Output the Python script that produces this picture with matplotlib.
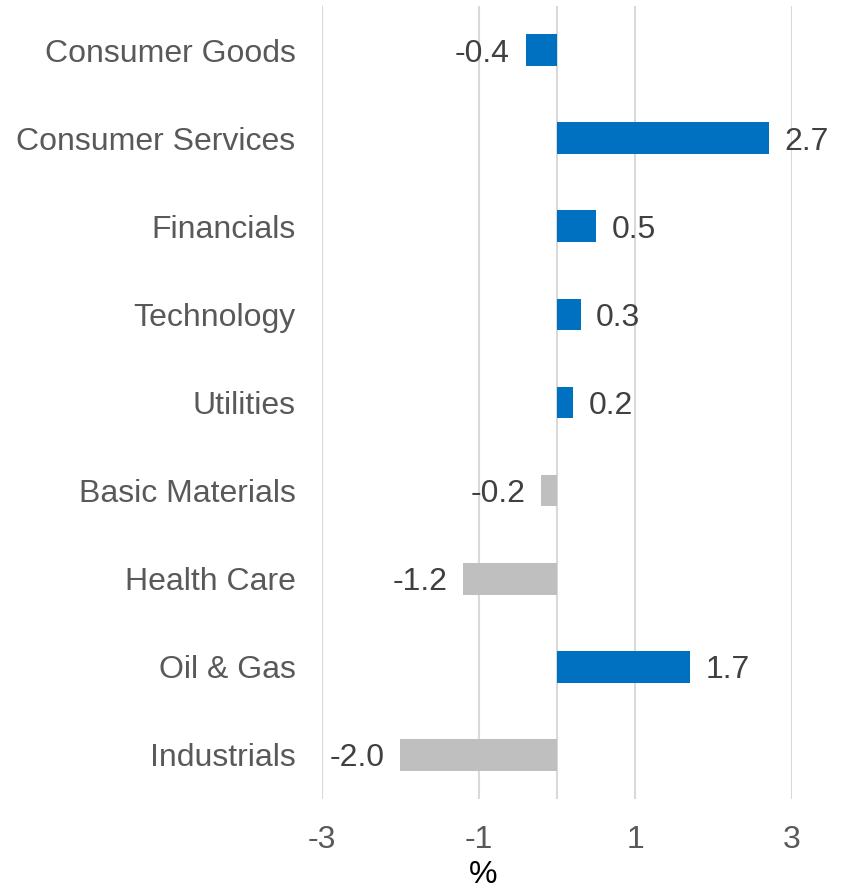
import matplotlib
matplotlib.use("Agg")
import matplotlib.pyplot as plt

# Datos del gráfico (de arriba hacia abajo)
sectores = ["Consumer Goods", "Consumer Services", "Financials", "Technology",
            "Utilities", "Basic Materials", "Health Care", "Oil & Gas", "Industrials"]
valores = [-0.4, 2.7, 0.5, 0.3, 0.2, -0.2, -1.2, 1.7, -2.0]
colores = ["#0070C0", "#0070C0", "#0070C0", "#0070C0", "#0070C0",
           "#BFBFBF", "#BFBFBF", "#0070C0", "#BFBFBF"]
ticks_x = [-3, -1, 1, 3]

plt.rcParams["font.family"] = ["Liberation Sans", "DejaVu Sans"]

fig = plt.figure(figsize=(8.45, 8.9), dpi=100)
ax = fig.add_axes([322 / 845, 1 - 799 / 890, (792 - 322) / 845, (799 - 6) / 890])

pos = list(range(len(sectores)))
ax.barh(pos, valores, height=0.36, color=colores, zorder=3)

# Etiquetas de valor al final de cada barra
for p, v in zip(pos, valores):
    off = 0.2 if v >= 0 else -0.2
    ax.text(v + off, p, f"{v:.1f}", va="center_baseline", ha="left" if v >= 0 else "right",
            fontsize=23, color="#404040", zorder=4)

ax.set_xlim(-3, 3)
ax.set_ylim(len(sectores) - 0.5, -0.5)
ax.set_xticks(ticks_x)
ax.set_xticklabels([str(t) for t in ticks_x])
ax.set_yticks(pos)
ax.set_yticklabels(sectores)
ax.tick_params(axis="both", length=0, labelsize=23, labelcolor="#595959")
ax.tick_params(axis="y", pad=19)
ax.tick_params(axis="x", pad=19)

ax.grid(axis="x", color="#D9D9D9", linewidth=1.5, zorder=0)
ax.axvline(0, color="#D9D9D9", linewidth=1.5, zorder=1)
for s in ax.spines.values():
    s.set_visible(False)

fig.text(483 / 845, 1 - 883 / 890, "%", ha="center", va="baseline", fontsize=23, color="black")

fig.savefig("out.png", dpi=100)
